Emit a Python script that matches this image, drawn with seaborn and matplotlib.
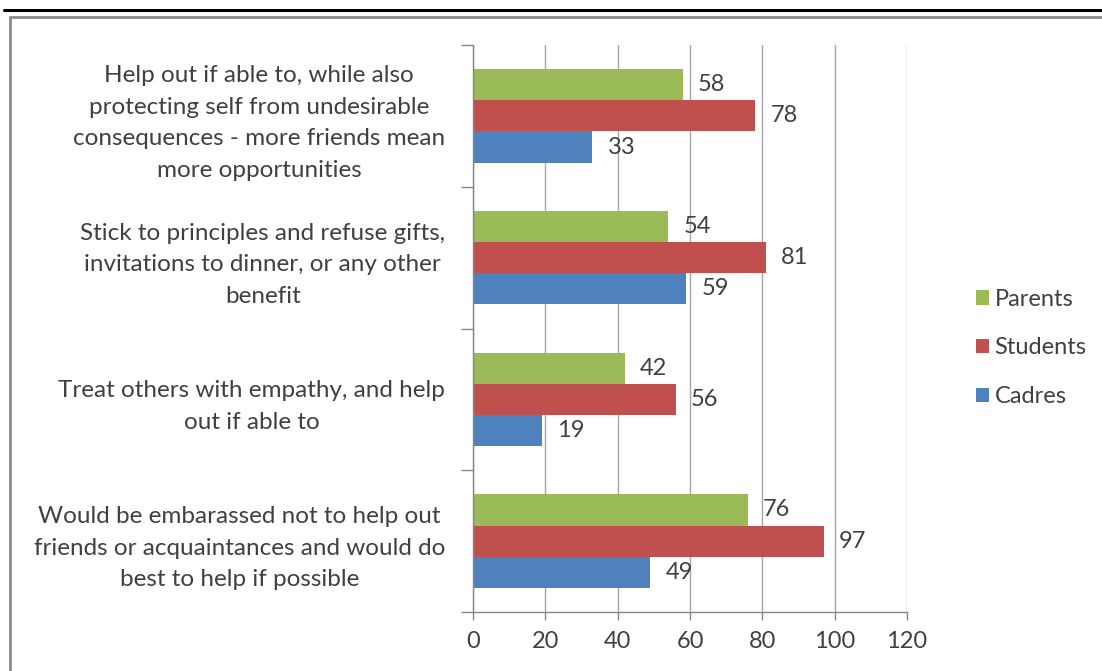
import matplotlib
matplotlib.use("Agg")
import matplotlib.pyplot as plt
import seaborn as sns
import pandas as pd
from matplotlib.lines import Line2D
from matplotlib.patches import Rectangle

categories = [
    "Help out if able to, while also\nprotecting self from undesirable\nconsequences - more friends mean\nmore opportunities",
    "Stick to principles and refuse gifts,\ninvitations to dinner, or any other\nbenefit",
    "Treat others with empathy, and help\nout if able to",
    "Would be embarassed not to help out\nfriends or acquaintances and would do\nbest to help if possible",
]
groups = ["Parents", "Students", "Cadres"]
parents = [58, 54, 42, 76]
students = [78, 81, 56, 97]
cadres = [33, 59, 19, 49]
colors = {"Parents": "#9BBB59", "Students": "#C0504D", "Cadres": "#4F81BD"}
xticks = [0, 20, 40, 60, 80, 100, 120]

rows = []
for g, vals in zip(groups, [parents, students, cadres]):
    for c, v in zip(categories, vals):
        rows.append({"category": c, "group": g, "value": v})
df = pd.DataFrame(rows)

sns.set_style("white")
plt.rcParams["font.family"] = ["Lato", "DejaVu Sans"]
text_color = "#404040"
fs = 17

fig = plt.figure(figsize=(11.02, 6.71), dpi=100)
ax = fig.add_axes([473 / 1102, 1 - 612 / 671, (907 - 473) / 1102, (612 - 45) / 671])

sns.barplot(data=df, x="value", y="category", hue="group", hue_order=groups,
            order=categories, palette=colors, orient="h", width=0.66, gap=0,
            saturation=1, linewidth=0, ax=ax, legend=True)

for cont in ax.containers:
    ax.bar_label(cont, padding=11, fontsize=fs, color=text_color)

ax.set_xlim(0, 120)
ax.set_ylim(3.5, -0.5)
ax.set_xticks(xticks)
ax.set_xticklabels([str(t) for t in xticks], fontsize=fs, color=text_color)
ax.set_xlabel("")
ax.set_ylabel("")
ax.grid(axis="x", color="#A6A6A6", linewidth=1)
ax.set_axisbelow(True)

ax.set_yticks(range(len(categories)))
ax.set_yticklabels(categories, fontsize=17.5, color=text_color,
                   ha="right", multialignment="center", linespacing=1.62)
ax.tick_params(axis="y", which="major", length=0, pad=20)
ax.set_yticks([-0.5, 0.5, 1.5, 2.5, 3.5], minor=True)
ax.tick_params(axis="y", which="minor", length=9, width=1, color="#868686", left=True)
ax.tick_params(axis="x", which="major", length=6, width=1, color="#868686", bottom=True, pad=8)

for s in ["top", "right"]:
    ax.spines[s].set_visible(False)
for s in ["left", "bottom"]:
    ax.spines[s].set_color("#868686")
    ax.spines[s].set_linewidth(1)

leg = ax.legend(loc="center left", bbox_to_anchor=(964 / 1102, 1 - 348 / 671),
                bbox_transform=fig.transFigure, frameon=False, fontsize=fs,
                handlelength=0.55, handleheight=0.55, handletextpad=0.25,
                labelspacing=1.17, borderpad=0)
for t in leg.get_texts():
    t.set_color(text_color)

# outer frame
fig.add_artist(Line2D([4 / 1102, 1], [1 - 10 / 671, 1 - 10 / 671], color="black",
                      linewidth=2.2, transform=fig.transFigure))
fig.add_artist(Rectangle((10 / 1102, -0.1), 1.2, 1 - 17 / 671 + 0.1, fill=False,
                         edgecolor="#8C8C8C", linewidth=2, transform=fig.transFigure))

fig.savefig("out.png", dpi=100)
